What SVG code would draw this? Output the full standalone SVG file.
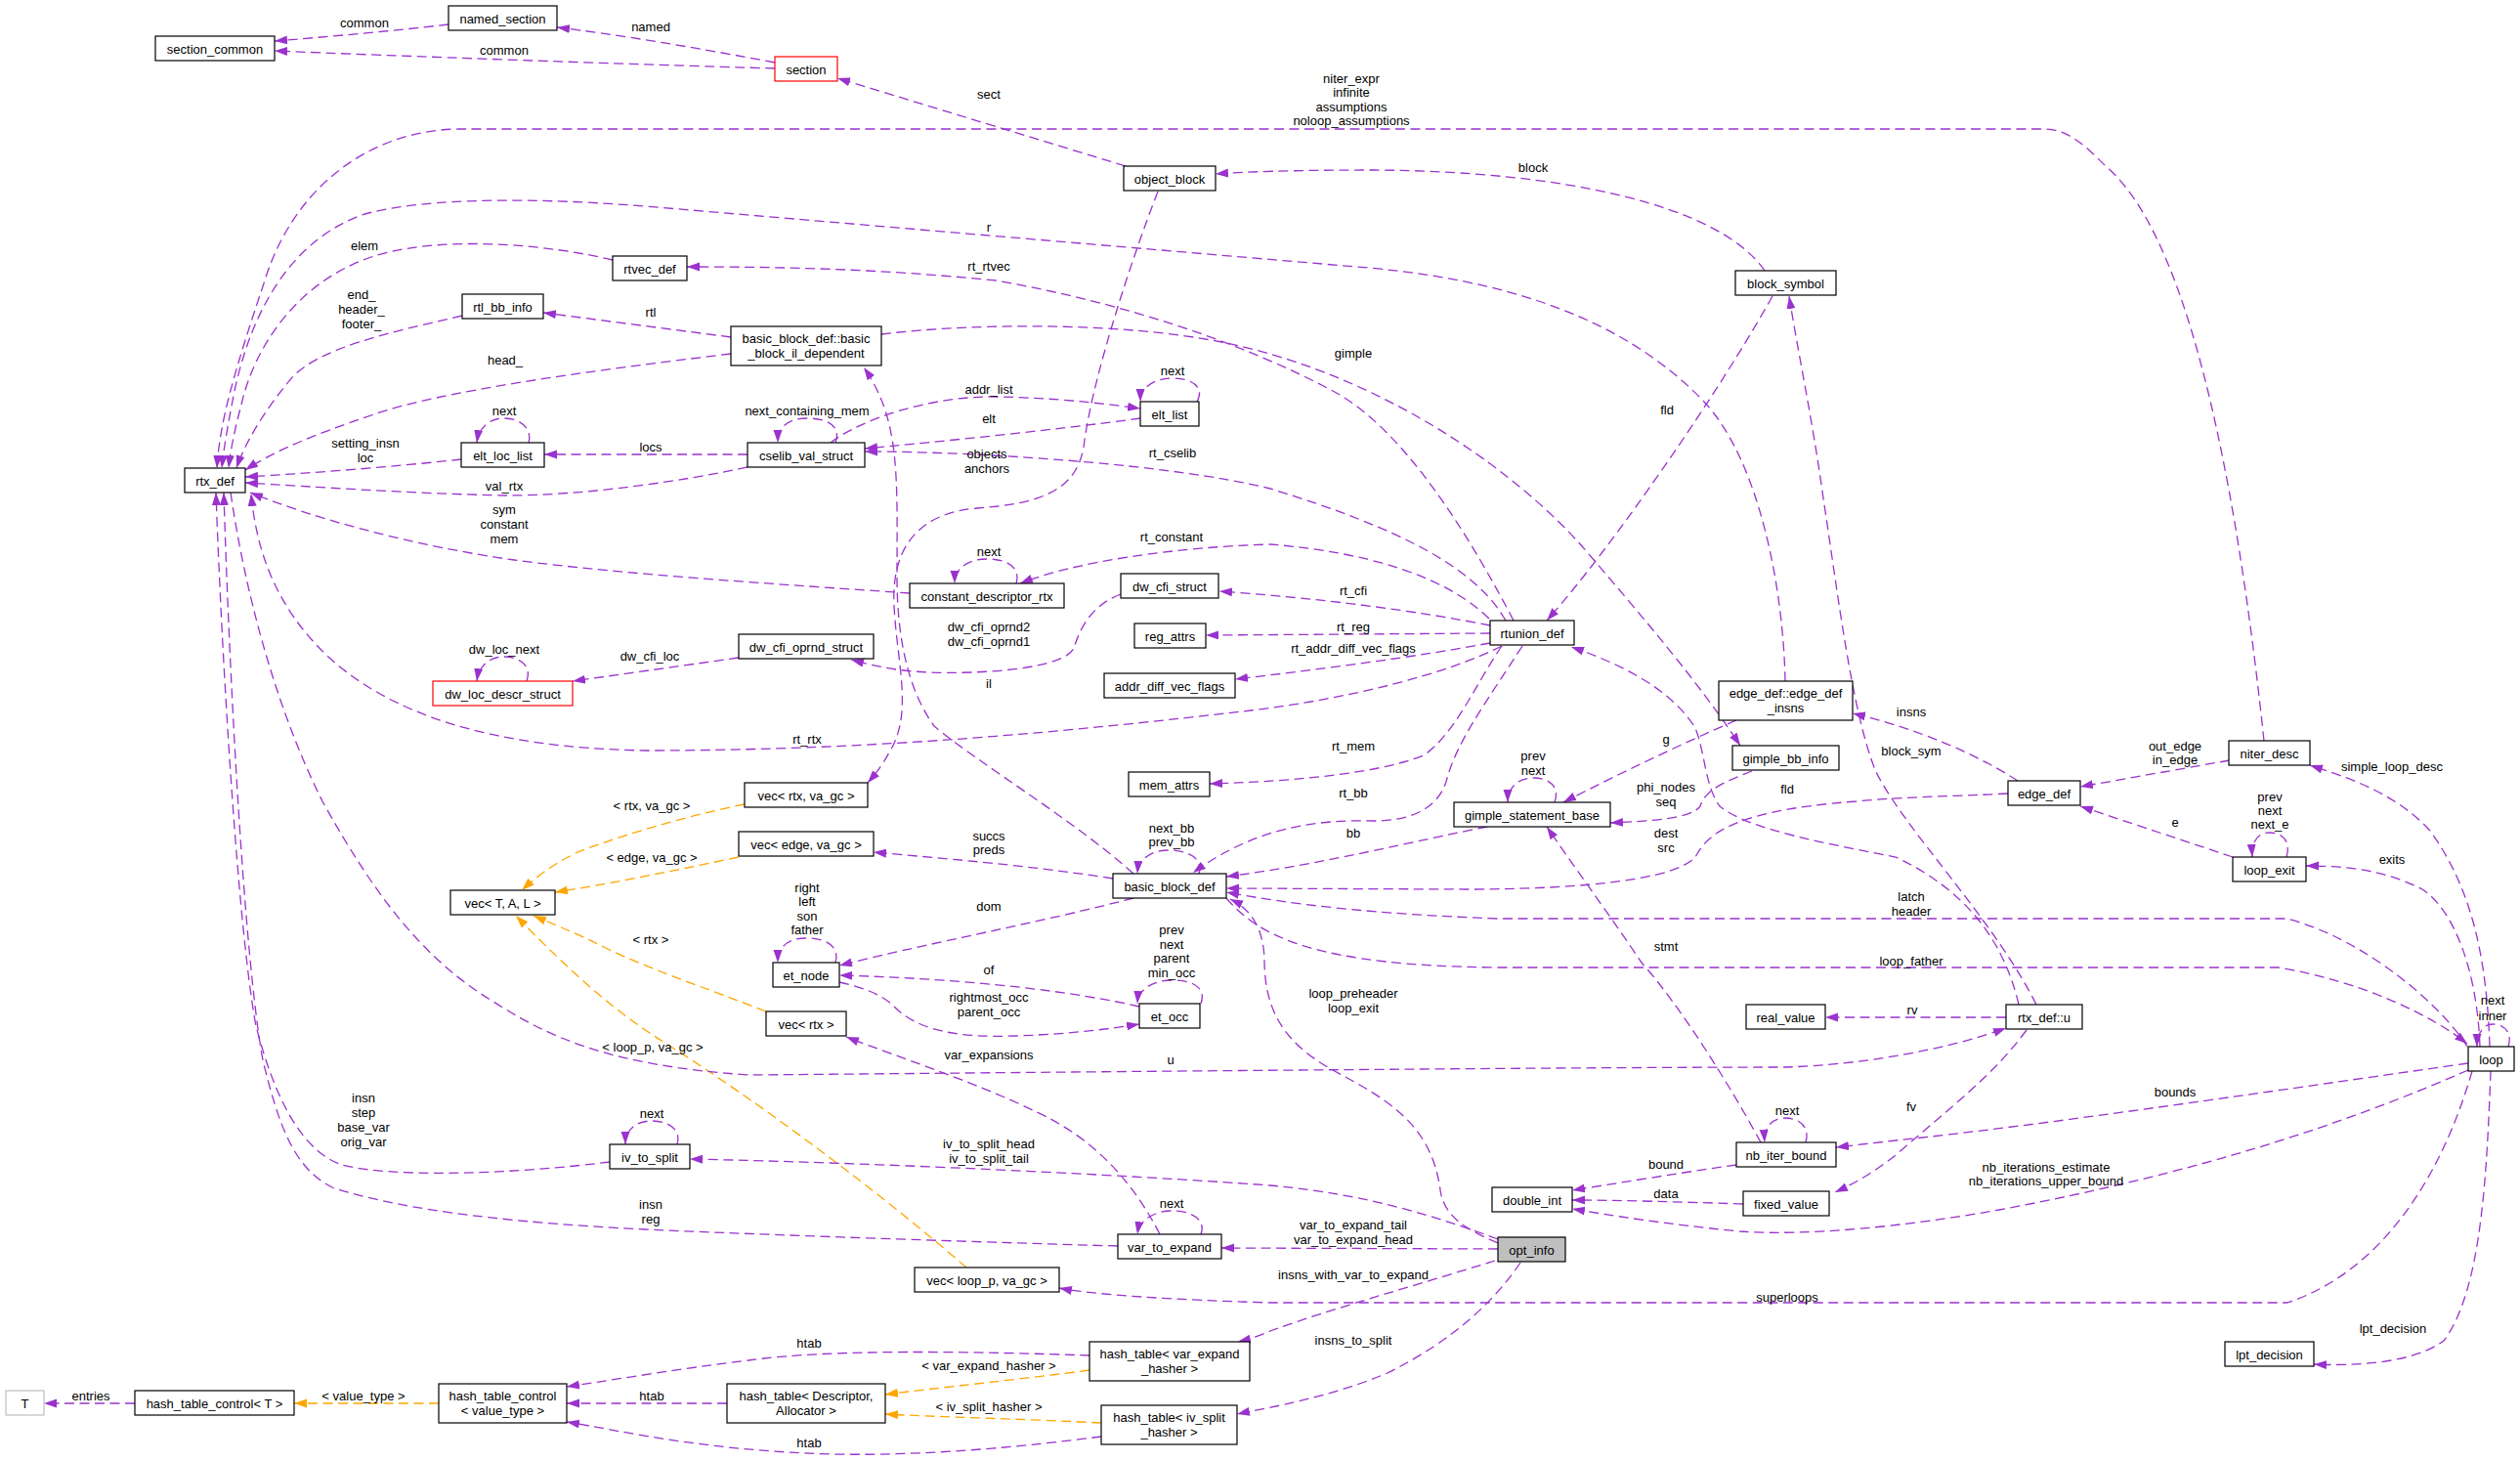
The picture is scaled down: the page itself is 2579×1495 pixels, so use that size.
<svg xmlns="http://www.w3.org/2000/svg" width="2579" height="1495" viewBox="0 0 2579 1495">
<style>
.e{fill:none;stroke:#9a32cd;stroke-width:1.3;stroke-dasharray:10,5.5;marker-end:url(#ap)}
.o{fill:none;stroke:#ffa500;stroke-width:1.3;stroke-dasharray:10,5.5;marker-end:url(#ao)}
.b{fill:#fff;stroke:#000;stroke-width:1.2}
.r{fill:#fff;stroke:#ff0000;stroke-width:1.2}
.g{fill:#fff;stroke:#bfbfbf;stroke-width:1.2}
.f{fill:#bfbfbf;stroke:#000;stroke-width:1.2}
.t{font-family:"Liberation Sans",Arial,Helvetica,sans-serif;font-size:13px;text-anchor:middle;fill:#000}
</style>
<defs>
<marker id="ap" markerUnits="userSpaceOnUse" markerWidth="14" markerHeight="10" refX="13" refY="4.5" orient="auto"><path d="M0,0 L13,4.5 L0,9 Z" fill="#9a32cd" stroke="none"/></marker>
<marker id="ao" markerUnits="userSpaceOnUse" markerWidth="14" markerHeight="10" refX="13" refY="4.5" orient="auto"><path d="M0,0 L13,4.5 L0,9 Z" fill="#ffa500" stroke="none"/></marker>
</defs>
<rect x="0" y="0" width="2579" height="1495" fill="#fff"/>
<g id="edges">
<path class="e" d="M459,25 C400,32 330,38 281,42"/>
<text class="t" x="373" y="27.5">common</text>
<path class="e" d="M793,70 C650,66 400,57 281,52"/>
<text class="t" x="516" y="55.5">common</text>
<path class="e" d="M793,64 C720,50 630,35 570,28"/>
<text class="t" x="666" y="31.5">named</text>
<path class="e" d="M1152,170 L857,80"/>
<text class="t" x="1012" y="100.5">sect</text>
<path class="e" d="M1806,277 C1760,210 1600,175 1406,174 C1320,174 1270,176 1244,178"/>
<text class="t" x="1569" y="175.5">block</text>
<path class="e" d="M2317,758 C2295,550 2250,250 2155,170 C2130,145 2115,132 2090,132 L470,132 C380,133 300,190 270,290 C240,380 225,430 222,479"/>
<text class="t" x="1383"><tspan x="1383" y="84.5">niter_expr</tspan><tspan x="1383" y="99">infinite</tspan><tspan x="1383" y="113.5">assumptions</tspan><tspan x="1383" y="128">noloop_assumptions</tspan></text>
<path class="e" d="M1827,697 C1825,600 1800,470 1743,410 C1680,345 1580,290 1400,274 L660,211 C520,200 420,205 370,220 C290,250 255,330 240,400 C232,440 229,460 227,479"/>
<text class="t" x="1012" y="236.5">r</text>
<path class="e" d="M627,266 C560,250 450,240 380,263 C300,290 260,360 248,410 C240,440 236,460 234,479"/>
<text class="t" x="373" y="255.5">elem</text>
<path class="e" d="M473,323 C400,340 330,355 300,385 C270,420 250,455 242,479"/>
<text class="t" x="370"><tspan x="370" y="305.5">end_</tspan><tspan x="370" y="320.5">header_</tspan><tspan x="370" y="335.5">footer_</tspan></text>
<path class="e" d="M748,362 C600,380 450,400 380,425 C320,445 280,462 251,481"/>
<text class="t" x="517" y="372.5">head_</text>
<path class="e" d="M748,345 L556,320"/>
<text class="t" x="666" y="323.5">rtl</text>
<path class="e" d="M472,470 C400,478 320,484 251,488"/>
<text class="t" x="374"><tspan x="374" y="457.5">setting_insn</tspan><tspan x="374" y="472.5">loc</tspan></text>
<path class="e" d="M541,453 C545,438 532,428 516,428 C500,428 490,438 488,453"/>
<text class="t" x="516" y="424.5">next</text>
<path class="e" d="M765,465 L557,465"/>
<text class="t" x="666" y="461.5">locs</text>
<path class="e" d="M765,478 C700,492 600,507 518,507 C420,505 320,498 251,494"/>
<text class="t" x="516" y="501.5">val_rtx</text>
<path class="e" d="M855,453 C862,435 845,428 826,428 C805,428 796,438 796,453"/>
<text class="t" x="826" y="424.5">next_containing_mem</text>
<path class="e" d="M850,453 C880,430 950,405 1019,406 C1080,407 1130,413 1167,418"/>
<text class="t" x="1012" y="402.5">addr_list</text>
<path class="e" d="M1167,428 C1080,440 960,452 885,459"/>
<text class="t" x="1012" y="432.5">elt</text>
<path class="e" d="M1225,411 C1234,395 1218,387 1200,387 C1180,387 1167,397 1167,411"/>
<text class="t" x="1200" y="383.5">next</text>
<path class="e" d="M1541,635 C1510,580 1430,540 1300,500 C1200,475 1000,462 885,462"/>
<text class="t" x="1200" y="467.5">rt_cselib</text>
<path class="e" d="M1185,196 C1160,260 1120,380 1110,450 C1105,500 1070,515 1000,520 C940,525 912,560 915,620 C918,680 935,730 910,770 C902,785 895,793 888,801"/>
<text class="t" x="1010"><tspan x="1010" y="468.5">objects</tspan><tspan x="1010" y="483.5">anchors</tspan></text>
<path class="e" d="M1160,894 C1100,840 1000,780 956,743 C925,700 918,640 918,590 C918,490 922,430 884,376"/>
<text class="t" x="1012" y="703.5">il</text>
<path class="e" d="M931,607 C800,598 640,588 526,573 C420,558 320,530 256,504"/>
<text class="t" x="516"><tspan x="516" y="525.5">sym</tspan><tspan x="516" y="540.5">constant</tspan><tspan x="516" y="555.5">mem</tspan></text>
<path class="e" d="M1040,597 C1045,580 1030,572 1010,572 C990,572 977,582 977,597"/>
<text class="t" x="1012" y="568.5">next</text>
<path class="e" d="M1524,633 C1480,590 1400,565 1300,557 C1200,560 1100,575 1044,597"/>
<text class="t" x="1199" y="553.5">rt_constant</text>
<path class="e" d="M1525,640 C1450,625 1350,612 1248,605"/>
<text class="t" x="1385" y="608.5">rt_cfi</text>
<path class="e" d="M1147,608 C1115,620 1105,645 1099,663 C1090,685 1000,690 950,688 C910,686 890,680 871,675"/>
<text class="t" x="1012"><tspan x="1012" y="645.5">dw_cfi_oprnd2</tspan><tspan x="1012" y="660.5">dw_cfi_oprnd1</tspan></text>
<path class="e" d="M1525,648 L1234,650"/>
<text class="t" x="1385" y="645.5">rt_reg</text>
<path class="e" d="M1525,658 C1450,672 1350,685 1264,695"/>
<text class="t" x="1385" y="667.5">rt_addr_diff_vec_flags</text>
<path class="e" d="M756,673 L586,697"/>
<text class="t" x="665" y="675.5">dw_cfi_loc</text>
<path class="e" d="M539,697 C545,680 530,672 516,672 C500,672 490,682 488,697"/>
<text class="t" x="516" y="668.5">dw_loc_next</text>
<path class="e" d="M1537,661 C1480,690 1380,715 1280,727 C1100,748 900,768 660,768 C500,765 400,730 337,673 C280,620 262,560 257,505"/>
<text class="t" x="826" y="760.5">rt_rtx</text>
<path class="e" d="M1537,661 C1510,700 1490,750 1457,773 C1400,795 1300,800 1238,802"/>
<text class="t" x="1385" y="767.5">rt_mem</text>
<path class="e" d="M1558,661 C1520,720 1490,760 1480,800 C1470,830 1440,840 1406,840 C1340,838 1280,850 1221,893"/>
<text class="t" x="1385" y="815.5">rt_bb</text>
<path class="e" d="M1522,846 C1450,860 1350,885 1255,897"/>
<text class="t" x="1385" y="856.5">bb</text>
<path class="e" d="M1591,821 C1597,805 1585,796 1570,796 C1553,796 1543,806 1543,821"/>
<text class="t" x="1569"><tspan x="1569" y="777.5">prev</tspan><tspan x="1569" y="792.5">next</tspan></text>
<path class="e" d="M1777,737 C1730,757 1650,795 1600,821"/>
<text class="t" x="1705" y="760.5">g</text>
<path class="e" d="M1793,789 C1765,800 1745,808 1740,825 C1730,838 1690,840 1648,842"/>
<text class="t" x="1705"><tspan x="1705" y="809.5">phi_nodes</tspan><tspan x="1705" y="824.5">seq</tspan></text>
<path class="e" d="M902,342 C1000,330 1150,330 1250,350 C1400,380 1540,470 1620,560 C1680,630 1740,700 1781,763"/>
<text class="t" x="1385" y="365.5">gimple</text>
<path class="e" d="M1549,635 C1510,560 1440,440 1364,400 C1270,350 1150,310 1019,287 C900,275 800,273 703,273"/>
<text class="t" x="1012" y="276.5">rt_rtvec</text>
<path class="e" d="M1814,303 C1760,400 1650,560 1583,635"/>
<text class="t" x="1706" y="423.5">fld</text>
<path class="e" d="M2084,1028 C2040,940 1950,850 1920,790 C1895,730 1880,600 1866,510 C1855,430 1840,360 1831,303"/>
<text class="t" x="1956" y="772.5">block_sym</text>
<path class="e" d="M2066,1028 C2050,960 2010,910 1940,877 C1880,865 1790,850 1760,825 C1745,805 1745,770 1735,745 C1710,705 1660,680 1608,662"/>
<text class="t" x="1829" y="811.5">fld</text>
<path class="e" d="M2065,799 C2020,770 1960,745 1896,730"/>
<text class="t" x="1956" y="732.5">insns</text>
<path class="e" d="M2055,812 C2000,815 1950,815 1900,820 C1760,830 1745,860 1735,877 C1715,900 1620,910 1500,910 L1255,909"/>
<text class="t" x="1705"><tspan x="1705" y="856.5">dest</tspan><tspan x="1705" y="872">src</tspan></text>
<path class="e" d="M2282,778 L2129,805"/>
<text class="t" x="2226"><tspan x="2226" y="767.5">out_edge</tspan><tspan x="2226" y="781.5">in_edge</tspan></text>
<path class="e" d="M2285,877 L2129,825"/>
<text class="t" x="2226" y="845.5">e</text>
<path class="e" d="M2340,877 C2345,860 2335,852 2323,852 C2310,852 2304,862 2305,877"/>
<text class="t" x="2323"><tspan x="2323" y="819.5">prev</tspan><tspan x="2323" y="833.5">next</tspan><tspan x="2323" y="848">next_e</tspan></text>
<path class="e" d="M2548,1071 C2545,980 2530,910 2487,850 C2450,810 2400,795 2364,783"/>
<text class="t" x="2448" y="788.5">simple_loop_desc</text>
<path class="e" d="M2538,1071 C2535,990 2510,930 2479,910 C2440,890 2400,886 2360,886"/>
<text class="t" x="2448" y="883.5">exits</text>
<path class="e" d="M2525,1071 C2500,1030 2420,960 2340,940 L1532,940 C1400,935 1320,925 1255,913"/>
<text class="t" x="1956"><tspan x="1956" y="921.5">latch</tspan><tspan x="1956" y="936.5">header</tspan></text>
<path class="e" d="M1255,919 C1290,960 1350,988 1532,990 L2332,990 C2420,1005 2490,1040 2525,1068"/>
<text class="t" x="1956" y="987.5">loop_father</text>
<path class="e" d="M1533,1272 C1500,1258 1478,1245 1474,1218 C1465,1150 1420,1125 1364,1095 C1310,1065 1295,1030 1294,985 C1294,950 1280,930 1259,920"/>
<text class="t" x="1385"><tspan x="1385" y="1020.5">loop_preheader</tspan><tspan x="1385" y="1035.5">loop_exit</tspan></text>
<path class="e" d="M1160,919 C1060,945 950,965 859,988"/>
<text class="t" x="1012" y="931.5">dom</text>
<path class="e" d="M855,985 C860,968 845,960 825,960 C805,960 796,970 796,985"/>
<text class="t" x="826"><tspan x="826" y="912.5">right</tspan><tspan x="826" y="927">left</tspan><tspan x="826" y="941.5">son</tspan><tspan x="826" y="956">father</tspan></text>
<path class="e" d="M1166,1030 C1100,1015 1000,1002 859,998"/>
<text class="t" x="1012" y="996.5">of</text>
<path class="e" d="M859,1005 C890,1012 905,1020 915,1030 C940,1055 980,1062 1040,1060 C1100,1058 1140,1052 1166,1048"/>
<text class="t" x="1012"><tspan x="1012" y="1024.5">rightmost_occ</tspan><tspan x="1012" y="1039.5">parent_occ</tspan></text>
<path class="e" d="M1229,1027 C1235,1010 1220,1003 1200,1003 C1180,1003 1165,1012 1164,1027"/>
<text class="t" x="1199"><tspan x="1199" y="956">prev</tspan><tspan x="1199" y="970.5">next</tspan><tspan x="1199" y="985">parent</tspan><tspan x="1199" y="999.5">min_occ</tspan></text>
<path class="e" d="M1227,894 C1232,878 1215,870 1196,870 C1177,870 1165,880 1164,894"/>
<text class="t" x="1199"><tspan x="1199" y="851.5">next_bb</tspan><tspan x="1199" y="865.5">prev_bb</tspan></text>
<path class="e" d="M1139,899 C1050,885 960,878 894,872"/>
<text class="t" x="1012"><tspan x="1012" y="859.5">succs</tspan><tspan x="1012" y="873.5">preds</tspan></text>
<path class="o" d="M762,823 C700,835 620,860 589,873 C565,885 548,898 534,911"/>
<text class="t" x="667" y="828.5">&lt; rtx, va_gc &gt;</text>
<path class="o" d="M756,877 C680,893 620,905 568,913"/>
<text class="t" x="667" y="881.5">&lt; edge, va_gc &gt;</text>
<path class="o" d="M784,1035 C720,1010 660,990 620,970 C590,955 565,945 546,937"/>
<text class="t" x="666" y="965.5">&lt; rtx &gt;</text>
<path class="o" d="M989,1297 C900,1220 780,1130 682,1068 C620,1030 570,980 528,937"/>
<text class="t" x="668" y="1075.5">&lt; loop_p, va_gc &gt;</text>
<path class="e" d="M693,1171 C698,1155 683,1147 667,1147 C650,1147 640,1157 640,1171"/>
<text class="t" x="667" y="1143.5">next</text>
<path class="e" d="M1533,1268 C1470,1245 1400,1222 1300,1213 C1150,1202 900,1190 706,1186"/>
<text class="t" x="1012"><tspan x="1012" y="1174.5">iv_to_split_head</tspan><tspan x="1012" y="1189.5">iv_to_split_tail</tspan></text>
<path class="e" d="M624,1189 C520,1202 400,1205 350,1192 C300,1175 275,1100 262,1050 C245,960 228,700 221,504"/>
<text class="t" x="372"><tspan x="372" y="1127.5">insn</tspan><tspan x="372" y="1143">step</tspan><tspan x="372" y="1157.5">base_var</tspan><tspan x="372" y="1172.5">orig_var</tspan></text>
<path class="e" d="M1144,1275 C900,1268 700,1260 660,1258 C500,1250 400,1235 340,1215 C300,1195 285,1150 269,1085 C250,980 235,700 229,504"/>
<text class="t" x="666"><tspan x="666" y="1236.5">insn</tspan><tspan x="666" y="1251.5">reg</tspan></text>
<path class="e" d="M236,504 C250,600 280,720 330,820 C380,910 430,980 505,1025 C560,1060 620,1090 766,1100 C1000,1098 1600,1092 1827,1092 C1900,1090 1990,1075 2053,1052"/>
<text class="t" x="1198" y="1088.5">u</text>
<path class="e" d="M1229,1263 C1235,1247 1218,1239 1200,1239 C1180,1239 1166,1249 1164,1263"/>
<text class="t" x="1199" y="1235.5">next</text>
<path class="e" d="M1187,1263 C1160,1210 1120,1165 1061,1138 C1000,1108 920,1082 866,1061"/>
<text class="t" x="1012" y="1083.5">var_expansions</text>
<path class="e" d="M1533,1278 L1250,1277"/>
<text class="t" x="1385"><tspan x="1385" y="1257.5">var_to_expand_tail</tspan><tspan x="1385" y="1272.5">var_to_expand_head</tspan></text>
<path class="e" d="M1530,1290 C1450,1315 1360,1340 1300,1362 C1290,1366 1280,1370 1267,1373"/>
<text class="t" x="1385" y="1308.5">insns_with_var_to_expand</text>
<path class="e" d="M1556,1292 C1530,1330 1490,1370 1420,1405 C1360,1430 1300,1440 1266,1447"/>
<text class="t" x="1385" y="1375.5">insns_to_split</text>
<path class="e" d="M2530,1096 C2500,1200 2440,1300 2341,1333 L1300,1333 C1200,1330 1120,1325 1084,1318"/>
<text class="t" x="1829" y="1331.5">superloops</text>
<path class="e" d="M2549,1096 C2545,1200 2540,1320 2501,1372 C2470,1395 2410,1398 2368,1396"/>
<text class="t" x="2449" y="1363.5">lpt_decision</text>
<path class="e" d="M2567,1071 C2572,1055 2561,1048 2551,1048 C2541,1048 2535,1058 2535,1071"/>
<text class="t" x="2551"><tspan x="2551" y="1027.5">next</tspan><tspan x="2551" y="1043.5">inner</tspan></text>
<path class="e" d="M2526,1088 C2300,1120 2100,1150 1940,1167 L1879,1174"/>
<text class="t" x="2226" y="1121.5">bounds</text>
<path class="e" d="M2526,1095 C2400,1150 2250,1200 2046,1238 C1950,1255 1850,1265 1780,1260 C1700,1252 1650,1244 1609,1237"/>
<text class="t" x="2094"><tspan x="2094" y="1199">nb_iterations_estimate</tspan><tspan x="2094" y="1213">nb_iterations_upper_bound</tspan></text>
<path class="e" d="M1777,1192 C1720,1200 1660,1210 1609,1218"/>
<text class="t" x="1705" y="1195.5">bound</text>
<path class="e" d="M1784,1232 C1720,1230 1660,1228 1609,1228"/>
<text class="t" x="1705" y="1225.5">data</text>
<path class="e" d="M1848,1169 C1853,1152 1840,1144 1827,1144 C1813,1144 1805,1154 1806,1169"/>
<text class="t" x="1829" y="1140.5">next</text>
<path class="e" d="M1802,1169 C1770,1110 1720,1030 1680,985 C1650,940 1620,900 1583,846"/>
<text class="t" x="1705" y="972.5">stmt</text>
<path class="e" d="M2053,1041 L1868,1041"/>
<text class="t" x="1957" y="1037.5">rv</text>
<path class="e" d="M2074,1054 C2040,1100 2000,1130 1940,1182 C1920,1198 1900,1210 1878,1220"/>
<text class="t" x="1956" y="1136.5">fv</text>
<path class="e" d="M1115,1387 C1000,1383 850,1380 766,1392 C700,1400 640,1410 580,1419"/>
<text class="t" x="828" y="1378.5">htab</text>
<path class="e" d="M744,1436 L580,1436"/>
<text class="t" x="667" y="1432.5">htab</text>
<path class="e" d="M1127,1470 C1050,1480 950,1490 850,1488 C720,1484 640,1465 580,1455"/>
<text class="t" x="828" y="1480.5">htab</text>
<path class="o" d="M1115,1402 C1040,1412 960,1420 906,1427"/>
<text class="t" x="1012" y="1401.5">&lt; var_expand_hasher &gt;</text>
<path class="o" d="M1127,1456 C1050,1452 960,1450 906,1447"/>
<text class="t" x="1012" y="1443.5">&lt; iv_split_hasher &gt;</text>
<path class="o" d="M449,1436 L301,1436"/>
<text class="t" x="372" y="1432.5">&lt; value_type &gt;</text>
<path class="e" d="M138,1436 L45,1436"/>
<text class="t" x="93" y="1432.5">entries</text>
</g>
<g id="section_common"><rect class="b" x="159" y="37" width="122" height="25"/><text class="t" x="220" y="54.5">section_common</text></g>
<g id="named_section"><rect class="b" x="459" y="6" width="111" height="25"/><text class="t" x="514.5" y="23.5">named_section</text></g>
<g id="section"><rect class="r" x="793" y="58" width="64" height="25"/><text class="t" x="825" y="75.5">section</text></g>
<g id="object_block"><rect class="b" x="1150" y="170" width="94" height="25"/><text class="t" x="1197" y="187.5">object_block</text></g>
<g id="block_symbol"><rect class="b" x="1776" y="277" width="103" height="25"/><text class="t" x="1827.5" y="294.5">block_symbol</text></g>
<g id="rtvec_def"><rect class="b" x="627" y="262" width="76" height="25"/><text class="t" x="665" y="279.5">rtvec_def</text></g>
<g id="rtl_bb_info"><rect class="b" x="473" y="301" width="83" height="25"/><text class="t" x="514.5" y="318.5">rtl_bb_info</text></g>
<g id="basic_block_il_dependent"><rect class="b" x="748" y="334" width="154" height="40"/><text class="t" x="825" y="351">basic_block_def::basic</text><text class="t" x="825" y="366">_block_il_dependent</text></g>
<g id="elt_list"><rect class="b" x="1167" y="411" width="60" height="25"/><text class="t" x="1197" y="428.5">elt_list</text></g>
<g id="elt_loc_list"><rect class="b" x="472" y="453" width="85" height="25"/><text class="t" x="514.5" y="470.5">elt_loc_list</text></g>
<g id="cselib_val_struct"><rect class="b" x="765" y="453" width="120" height="25"/><text class="t" x="825" y="470.5">cselib_val_struct</text></g>
<g id="rtx_def"><rect class="b" x="189" y="479" width="62" height="25"/><text class="t" x="220" y="496.5">rtx_def</text></g>
<g id="constant_descriptor_rtx"><rect class="b" x="931" y="597" width="158" height="25"/><text class="t" x="1010" y="614.5">constant_descriptor_rtx</text></g>
<g id="dw_cfi_struct"><rect class="b" x="1147" y="587" width="100" height="25"/><text class="t" x="1197" y="604.5">dw_cfi_struct</text></g>
<g id="rtunion_def"><rect class="b" x="1525" y="635" width="86" height="25"/><text class="t" x="1568" y="652.5">rtunion_def</text></g>
<g id="reg_attrs"><rect class="b" x="1161" y="638" width="73" height="25"/><text class="t" x="1197.5" y="655.5">reg_attrs</text></g>
<g id="dw_cfi_oprnd_struct"><rect class="b" x="756" y="649" width="138" height="25"/><text class="t" x="825" y="666.5">dw_cfi_oprnd_struct</text></g>
<g id="addr_diff_vec_flags"><rect class="b" x="1130" y="689" width="134" height="25"/><text class="t" x="1197" y="706.5">addr_diff_vec_flags</text></g>
<g id="dw_loc_descr_struct"><rect class="r" x="443" y="697" width="143" height="25"/><text class="t" x="514.5" y="714.5">dw_loc_descr_struct</text></g>
<g id="edge_def_insns"><rect class="b" x="1759" y="697" width="137" height="40"/><text class="t" x="1827.5" y="714">edge_def::edge_def</text><text class="t" x="1827.5" y="729">_insns</text></g>
<g id="gimple_bb_info"><rect class="b" x="1773" y="763" width="109" height="25"/><text class="t" x="1827.5" y="780.5">gimple_bb_info</text></g>
<g id="niter_desc"><rect class="b" x="2281" y="758" width="83" height="25"/><text class="t" x="2322.5" y="775.5">niter_desc</text></g>
<g id="mem_attrs"><rect class="b" x="1155" y="790" width="83" height="25"/><text class="t" x="1196.5" y="807.5">mem_attrs</text></g>
<g id="vec_rtx_va_gc"><rect class="b" x="762" y="801" width="126" height="25"/><text class="t" x="825" y="818.5">vec&lt; rtx, va_gc &gt;</text></g>
<g id="edge_def"><rect class="b" x="2055" y="799" width="74" height="25"/><text class="t" x="2092" y="816.5">edge_def</text></g>
<g id="gimple_statement_base"><rect class="b" x="1488" y="821" width="160" height="25"/><text class="t" x="1568" y="838.5">gimple_statement_base</text></g>
<g id="vec_edge_va_gc"><rect class="b" x="756" y="851" width="138" height="25"/><text class="t" x="825" y="868.5">vec&lt; edge, va_gc &gt;</text></g>
<g id="loop_exit"><rect class="b" x="2285" y="877" width="75" height="25"/><text class="t" x="2322.5" y="894.5">loop_exit</text></g>
<g id="basic_block_def"><rect class="b" x="1139" y="894" width="116" height="25"/><text class="t" x="1197" y="911.5">basic_block_def</text></g>
<g id="vec_T_A_L"><rect class="b" x="461" y="911" width="107" height="25"/><text class="t" x="514.5" y="928.5">vec&lt; T, A, L &gt;</text></g>
<g id="et_node"><rect class="b" x="791" y="985" width="68" height="25"/><text class="t" x="825" y="1002.5">et_node</text></g>
<g id="et_occ"><rect class="b" x="1166" y="1027" width="62" height="25"/><text class="t" x="1197" y="1044.5">et_occ</text></g>
<g id="real_value"><rect class="b" x="1787" y="1028" width="81" height="25"/><text class="t" x="1827.5" y="1045.5">real_value</text></g>
<g id="rtx_def_u"><rect class="b" x="2053" y="1028" width="78" height="25"/><text class="t" x="2092" y="1045.5">rtx_def::u</text></g>
<g id="vec_rtx"><rect class="b" x="784" y="1035" width="82" height="25"/><text class="t" x="825" y="1052.5">vec&lt; rtx &gt;</text></g>
<g id="loop"><rect class="b" x="2526" y="1071" width="47" height="25"/><text class="t" x="2549.5" y="1088.5">loop</text></g>
<g id="nb_iter_bound"><rect class="b" x="1777" y="1169" width="102" height="25"/><text class="t" x="1828" y="1186.5">nb_iter_bound</text></g>
<g id="iv_to_split"><rect class="b" x="624" y="1171" width="82" height="25"/><text class="t" x="665" y="1188.5">iv_to_split</text></g>
<g id="double_int"><rect class="b" x="1527" y="1215" width="82" height="25"/><text class="t" x="1568" y="1232.5">double_int</text></g>
<g id="fixed_value"><rect class="b" x="1784" y="1219" width="88" height="25"/><text class="t" x="1828" y="1236.5">fixed_value</text></g>
<g id="var_to_expand"><rect class="b" x="1144" y="1263" width="106" height="25"/><text class="t" x="1197" y="1280.5">var_to_expand</text></g>
<g id="opt_info"><rect class="f" x="1533" y="1266" width="69" height="25"/><text class="t" x="1567.5" y="1283.5">opt_info</text></g>
<g id="vec_loop_p_va_gc"><rect class="b" x="936" y="1297" width="148" height="25"/><text class="t" x="1010" y="1314.5">vec&lt; loop_p, va_gc &gt;</text></g>
<g id="hash_table_var_expand_hasher"><rect class="b" x="1115" y="1373" width="164" height="40"/><text class="t" x="1197" y="1390">hash_table&lt; var_expand</text><text class="t" x="1197" y="1405">_hasher &gt;</text></g>
<g id="lpt_decision"><rect class="b" x="2277" y="1373" width="91" height="25"/><text class="t" x="2322.5" y="1390.5">lpt_decision</text></g>
<g id="hash_table_control_value_type"><rect class="b" x="449" y="1416" width="131" height="40"/><text class="t" x="514.5" y="1433">hash_table_control</text><text class="t" x="514.5" y="1448">&lt; value_type &gt;</text></g>
<g id="hash_table_Descriptor_Allocator"><rect class="b" x="744" y="1416" width="162" height="40"/><text class="t" x="825" y="1433">hash_table&lt; Descriptor,</text><text class="t" x="825" y="1448">Allocator &gt;</text></g>
<g id="hash_table_control_T"><rect class="b" x="138" y="1423" width="163" height="25"/><text class="t" x="219.5" y="1440.5">hash_table_control&lt; T &gt;</text></g>
<g id="T"><rect class="g" x="6" y="1423" width="39" height="25"/><text class="t" x="25.5" y="1440.5">T</text></g>
<g id="hash_table_iv_split_hasher"><rect class="b" x="1127" y="1438" width="139" height="40"/><text class="t" x="1196.5" y="1455">hash_table&lt; iv_split</text><text class="t" x="1196.5" y="1470">_hasher &gt;</text></g>
</svg>
